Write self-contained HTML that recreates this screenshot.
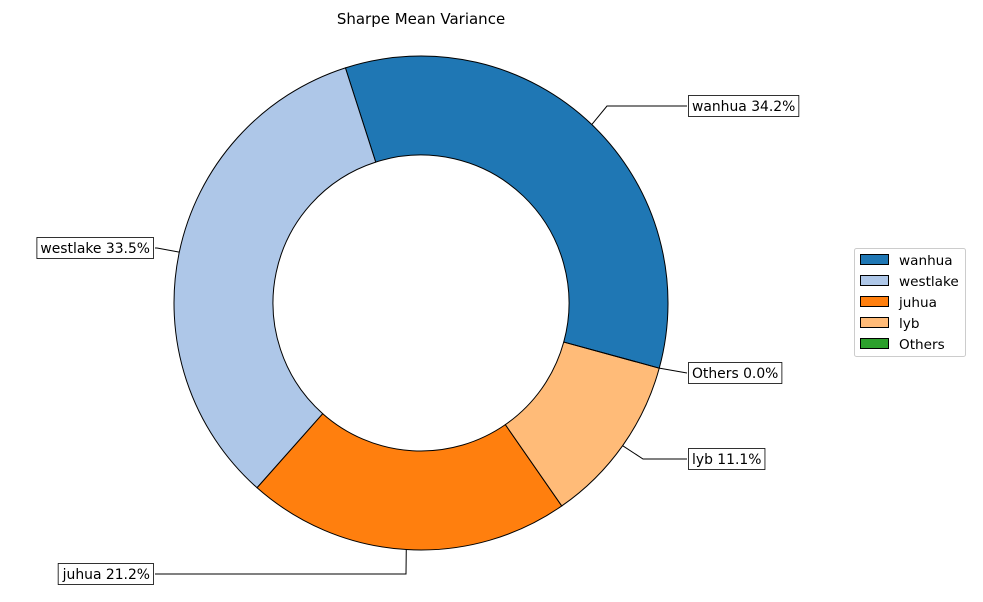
<!DOCTYPE html>
<html><head><meta charset="utf-8"><style>
body{margin:0;background:#fff;font-family:"Liberation Sans","DejaVu Sans",sans-serif;}
</style></head><body>
<svg id="chart" width="983" height="597" style="font-family:'DejaVu Sans','Liberation Sans',sans-serif">
<text x="421" y="24" text-anchor="middle" font-size="15">Sharpe Mean Variance</text>
<g id="slices"></g>
<g id="labels"></g>
<g id="legend"></g>
</svg>
<script>
const categories=["wanhua","westlake","juhua","lyb","Others"];
const values=[34.2,33.5,21.2,11.1,0.0];
const colors=["#1f77b4","#aec7e8","#ff7f0e","#ffbb78","#2ca02c"];
const cx=421,cy=303,R=247,r=148,start=-15.3;
const NS="http://www.w3.org/2000/svg";
function el(t,a,p){const e=document.createElementNS(NS,t);for(const k in a)e.setAttribute(k,a[k]);p.appendChild(e);return e;}
function pt(rad,deg){const a=deg*Math.PI/180;return [cx+rad*Math.cos(a),cy-rad*Math.sin(a)];}
const total=values.reduce((a,b)=>a+b,0);
const sg=document.getElementById('slices'),lg=document.getElementById('labels');
let ang=start;
const lay={wanhua:[1,692,106,607,106],westlake:[-1,150,248,157,248],juhua:[-1,150,574,406,574],lyb:[1,692,459,643,459],Others:[1,692,373,687,373]};
categories.forEach((c,i)=>{
 const sweep=values[i]/total*360,a0=ang,a1=ang+sweep;ang=a1;
 const [x0,y0]=pt(R,a0),[x1,y1]=pt(R,a1),[x2,y2]=pt(r,a1),[x3,y3]=pt(r,a0);
 const lf=sweep>180?1:0;
 const p=el('path',{d:`M${x0},${y0} A${R},${R} 0 ${lf} 0 ${x1},${y1} L${x2},${y2} A${r},${r} 0 ${lf} 1 ${x3},${y3} Z`,fill:colors[i],stroke:'#000','stroke-width':1},sg);
 
 
 const mid=(a0+a1)/2,[mx,my]=pt(R,mid);
 const L=lay[c];
 const line=el('polyline',{points:`${mx},${my} ${L[3]},${L[4]} ${L[1]-(L[0]>0?5:-5)},${L[2]}`,fill:'none',stroke:'#000','stroke-width':1},lg);
 
 
 const t=el('text',{x:L[1],y:L[2]+5,'font-size':13.9,'text-anchor':L[0]>0?'start':'end'},lg);
 t.textContent=c+' '+values[i].toFixed(1)+'%';
 
 
 const bb=t.getBBox();
 const b=el('rect',{x:bb.x-3.5,y:L[2]-10.5,width:bb.width+7,height:21,fill:'#fff',stroke:'#000','stroke-width':0.8},lg);
 
 
 lg.appendChild(t);
});
const leg=document.getElementById('legend');
el('rect',{x:854.5,y:248.5,width:111,height:108,fill:'#fff',stroke:'#ccc','stroke-width':1,rx:2},leg);
categories.forEach((c,i)=>{
 const y=260+i*21;
 const s=el('rect',{x:860.5,y:y-5.5,width:28,height:10,fill:colors[i],stroke:'#000','stroke-width':1},leg);
 
 
 const t=el('text',{x:899,y:y+5,'font-size':13.6},leg);
 t.textContent=c;
 
 
});
</script>
</body></html>
